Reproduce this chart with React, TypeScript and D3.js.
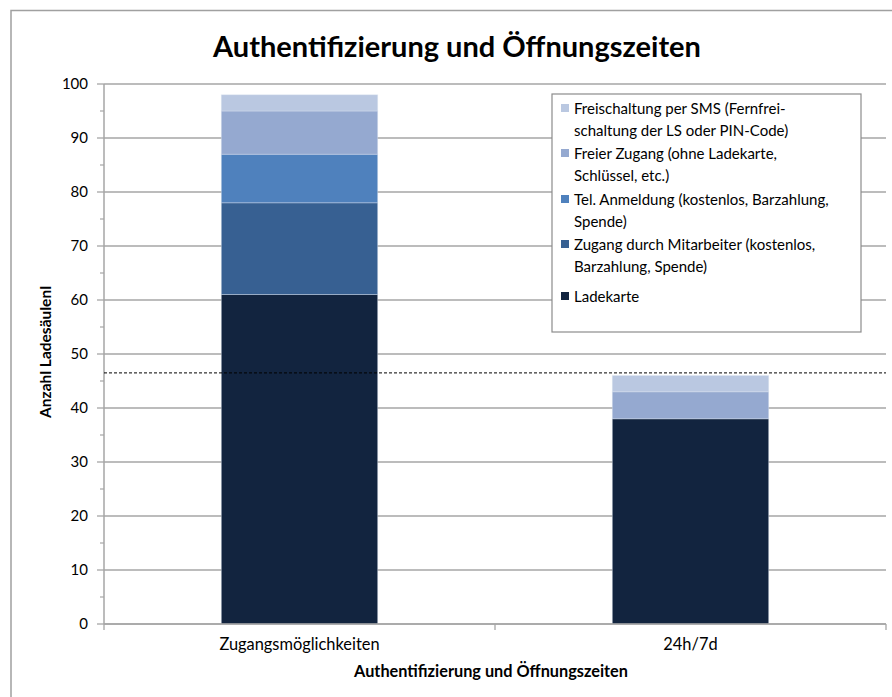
import React from "react";
import * as d3 from "d3";

const categories = ["Zugangsmöglichkeiten", "24h/7d"];
const seriesNames = [
  "Ladekarte",
  "Zugang durch Mitarbeiter (kostenlos, Barzahlung, Spende)",
  "Tel. Anmeldung (kostenlos, Barzahlung, Spende)",
  "Freier Zugang (ohne Ladekarte, Schlüssel, etc.)",
  "Freischaltung per SMS (Fernfreischaltung der LS oder PIN-Code)",
];
const legendLines = [
  ["Ladekarte"],
  ["Zugang durch Mitarbeiter (kostenlos,", "Barzahlung, Spende)"],
  ["Tel. Anmeldung (kostenlos, Barzahlung,", "Spende)"],
  ["Freier Zugang (ohne Ladekarte,", "Schlüssel, etc.)"],
  ["Freischaltung per SMS (Fernfrei-", "schaltung der LS oder PIN-Code)"],
];
const ladekarte = [61, 38];
const mitarbeiter = [17, 0];
const telAnmeldung = [9, 0];
const freierZugang = [8, 5];
const sms = [3, 3];
const referenceLine = 46.5;
const yTicks = [0, 10, 20, 30, 40, 50, 60, 70, 80, 90, 100];
const colors = ["#12243f", "#376092", "#4f81bd", "#95a9d0", "#bac8e1"];

const W = 892;
const H = 697;
const FONT = "Lato, 'Open Sans', sans-serif";

export default function App() {
  const left = 104, right = 886, top = 84, bottom = 624;
  const x = d3.scaleBand<string>().domain(categories).range([left, right]).paddingInner(0.6).paddingOuter(0.3);
  const y = d3.scaleLinear().domain([0, 100]).range([bottom, top]);
  const values = [ladekarte, mitarbeiter, telAnmeldung, freierZugang, sms];
  const rows = categories.map((c, i) => {
    const r: any = { cat: c };
    seriesNames.forEach((s, k) => (r[s] = values[k][i]));
    return r;
  });
  const stacked = d3.stack<any>().keys(seriesNames)(rows);
  const minorTicks = d3.range(5, 100, 10);
  const catEdges = [left, (left + right) / 2, right];

  // legend layout
  const legendX = 552, legendY = 94, legendW = 309, legendH = 238;
  const order = [4, 3, 2, 1, 0];
  const itemStarts = [109, 154, 200, 245, 297];

  return (
    <svg width={W} height={H} style={{ position: "absolute", left: 0, top: 0, background: "#fff" }} fontFamily={FONT}>
      <rect x={11} y={10.5} width={W + 20} height={H + 20} fill="none" stroke="#a0a0a0" strokeWidth={1.5} />
      <text x={457} y={57} textAnchor="middle" fontSize={29} fontWeight="bold" fill="#000">
        Authentifizierung und Öffnungszeiten
      </text>
      {/* gridlines */}
      {yTicks.map((t) => (
        <line key={"g" + t} x1={left} x2={right} y1={y(t)} y2={y(t)} stroke="#a6a6a6" strokeWidth={1.3} />
      ))}
      {/* bars */}
      {stacked.map((layer, k) =>
        layer.map((d, i) =>
          d[1] - d[0] > 0 ? (
            <rect
              key={k + "-" + i}
              x={x(categories[i])!}
              width={x.bandwidth()}
              y={y(d[1])}
              height={y(d[0]) - y(d[1])}
              fill={colors[k]}
              stroke="#dbe3f0"
              strokeOpacity={0.5}
              strokeWidth={0.8}
            />
          ) : null
        )
      )}
      {/* y axis */}
      <line x1={left} x2={left} y1={top} y2={bottom} stroke="#a6a6a6" strokeWidth={1.5} />
      {yTicks.map((t) => (
        <g key={"t" + t}>
          <line x1={left - 7} x2={left} y1={y(t)} y2={y(t)} stroke="#a6a6a6" strokeWidth={1.3} />
          <text x={88} y={y(t)} dy="0.35em" textAnchor="end" fontSize={15} fill="#000">
            {t}
          </text>
        </g>
      ))}
      {minorTicks.map((t) => (
        <line key={"m" + t} x1={left - 4} x2={left} y1={y(t)} y2={y(t)} stroke="#a6a6a6" strokeWidth={1.2} />
      ))}
      {/* x axis */}
      <line x1={left} x2={right} y1={bottom} y2={bottom} stroke="#a6a6a6" strokeWidth={1.5} />
      {catEdges.map((e, i) => (
        <line key={"xe" + i} x1={e} x2={e} y1={bottom} y2={bottom + 6} stroke="#a6a6a6" strokeWidth={1.3} />
      ))}
      {categories.map((c) => (
        <text key={c} x={x(c)! + x.bandwidth() / 2} y={650} textAnchor="middle" fontSize={16.4} fill="#000">
          {c}
        </text>
      ))}
      <text x={491} y={677} textAnchor="middle" fontSize={16.3} fontWeight="bold" fill="#000">
        Authentifizierung und Öffnungszeiten
      </text>
      <text transform={`translate(51,352) rotate(-90)`} textAnchor="middle" fontSize={15.5} fontWeight="bold" fill="#000">
        Anzahl Ladesäulenl
      </text>
      {/* reference line */}
      <line x1={left} x2={right} y1={y(referenceLine)} y2={y(referenceLine)} stroke="#000" strokeWidth={1} strokeDasharray="3,2" />
      {/* legend */}
      <rect x={legendX} y={legendY} width={legendW} height={legendH} fill="#fff" stroke="#8c8c8c" strokeWidth={1.2} />
      {order.map((k, j) => (
        <g key={"l" + k}>
          <rect x={561} y={itemStarts[j] - 5} width={8} height={8} fill={colors[k]} />
          {legendLines[k].map((ln, li) => (
            <text key={li} x={574} y={itemStarts[j] + li * 22} dy="0.35em" fontSize={15} fill="#000">
              {ln}
            </text>
          ))}
        </g>
      ))}
    </svg>
  );
}
